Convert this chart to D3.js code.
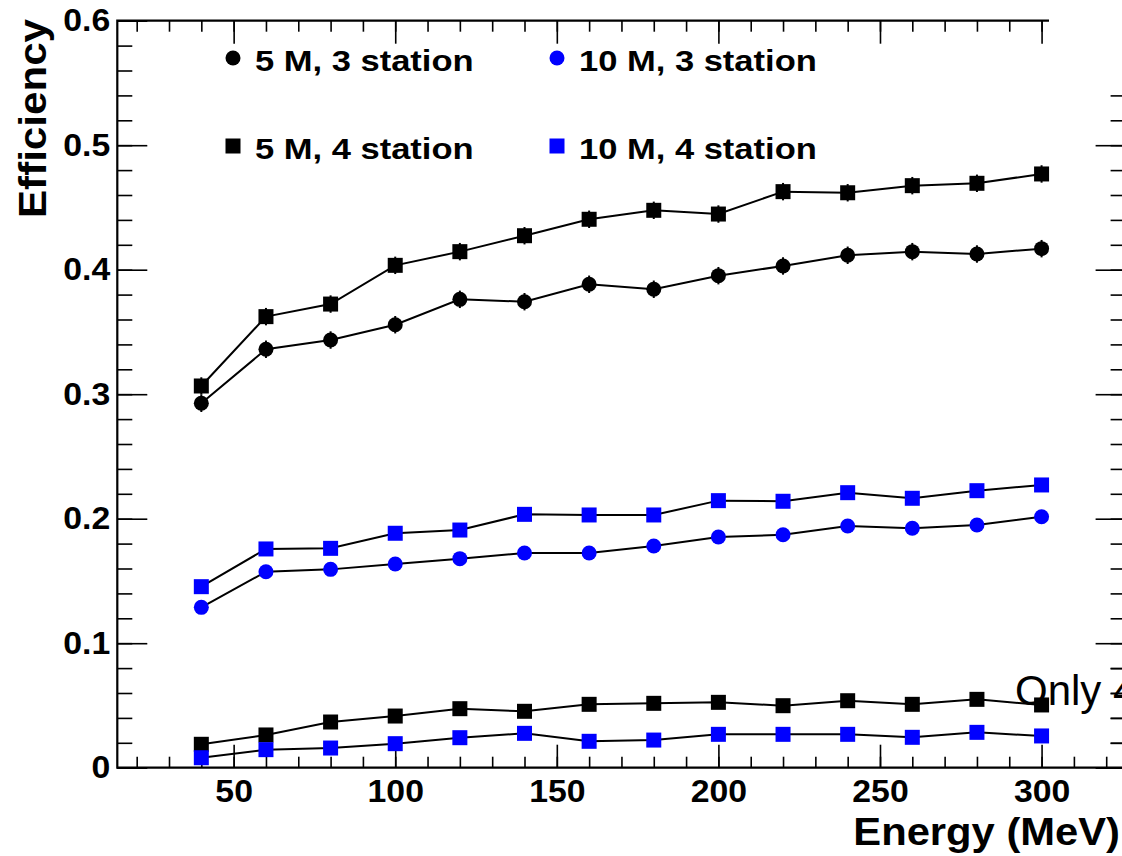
<!DOCTYPE html>
<html>
<head>
<meta charset="utf-8">
<script src="https://cdn.jsdelivr.net/npm/d3@7/dist/d3.min.js"></script>
<style>
  html, body { margin: 0; padding: 0; background: #fff; overflow: hidden; }
  svg { display: block; overflow: hidden; }
  text { font-family: "Liberation Sans", Arial, Helvetica, sans-serif; }
</style>
</head>
<body>
<svg id="chart" width="1122" height="856"></svg>
<script>
// ---------------- data ----------------
const energy = [40, 60, 80, 100, 120, 140, 160, 180, 200, 220, 240, 260, 280, 300];

const eff5M3station  = [0.2927, 0.3361, 0.3435, 0.3558, 0.3762, 0.3743, 0.3883, 0.3843, 0.3952, 0.4030, 0.4116, 0.4145, 0.4126, 0.4169];
const eff5M4station  = [0.3066, 0.3623, 0.3724, 0.4035, 0.4145, 0.4273, 0.4405, 0.4477, 0.4447, 0.4627, 0.4618, 0.4675, 0.4694, 0.4769];
const eff10M3station = [0.1288, 0.1574, 0.1593, 0.1636, 0.1679, 0.1724, 0.1724, 0.1781, 0.1853, 0.1871, 0.1941, 0.1923, 0.1949, 0.2016];
const eff10M4station = [0.1454, 0.1757, 0.1762, 0.1883, 0.1909, 0.2035, 0.2030, 0.2030, 0.2145, 0.2140, 0.2209, 0.2164, 0.2225, 0.2271];
const effOnly4_5M    = [0.0188, 0.0263, 0.0367, 0.0415, 0.0474, 0.0453, 0.0509, 0.0517, 0.0525, 0.0498, 0.0538, 0.0509, 0.0549, 0.0504];
const effOnly4_10M   = [0.0080, 0.0145, 0.0158, 0.0193, 0.0241, 0.0276, 0.0212, 0.0222, 0.0268, 0.0268, 0.0268, 0.0244, 0.0284, 0.0255];
const err5M          = [0.007, 0.007, 0.007, 0.007, 0.007, 0.007, 0.007, 0.007, 0.007, 0.007, 0.007, 0.007, 0.007, 0.007];

const legendLabels = ["5 M, 3 station", "10 M, 3 station", "5 M, 4 station", "10 M, 4 station"];
const xMajorTicks = [50, 100, 150, 200, 250, 300];
const yMajorTicks = [0, 0.1, 0.2, 0.3, 0.4, 0.5, 0.6];
const yTickLabels = ["0", "0.1", "0.2", "0.3", "0.4", "0.5", "0.6"];
const xTitle = "Energy (MeV)";
const yTitle = "Efficiency";
const note = "Only 4 station";

// ---------------- layout ----------------
const svg = d3.select("#chart");
const L = 117.3, R = 1125.6, T = 20.7, B = 767.7;
const x = d3.scaleLinear().domain([14, 326]).range([L, R]);
const y = d3.scaleLinear().domain([0, 0.6]).range([B, T]);

function stretch(sel, f) {
  sel.each(function () {
    const w = this.getComputedTextLength();
    d3.select(this).attr("textLength", w * f).attr("lengthAdjust", "spacingAndGlyphs");
  });
}

const xMinor = d3.range(20, 326, 10);
const yMinor = d3.range(0, 0.6001, 0.02);

function styleAxis(g, sw) {
  g.select(".domain").remove();
  g.selectAll(".tick line").attr("stroke", "#000").attr("stroke-width", sw);
}

// bottom axis
const gB = svg.append("g").attr("transform", `translate(0,${B})`);
gB.call(d3.axisBottom(x).tickValues(xMinor).tickSize(-11).tickFormat(""));
styleAxis(gB, 1.6);
const gB2 = svg.append("g").attr("transform", `translate(0,${B})`);
gB2.call(d3.axisBottom(x).tickValues(xMajorTicks).tickSize(-23).tickPadding(12).tickFormat(d3.format("d")));
styleAxis(gB2, 1.6);
gB2.selectAll("text").attr("font-size", 31).attr("font-weight", "bold").attr("fill", "#000").call(stretch, 1.09);

// top axis
const gT = svg.append("g").attr("transform", `translate(0,${T})`);
gT.call(d3.axisTop(x).tickValues(xMinor).tickSize(-11).tickFormat(""));
styleAxis(gT, 1.6);
const gT2 = svg.append("g").attr("transform", `translate(0,${T})`);
gT2.call(d3.axisTop(x).tickValues(xMajorTicks).tickSize(-23).tickFormat(""));
styleAxis(gT2, 1.6);

// left axis
const gL = svg.append("g").attr("transform", `translate(${L},0)`);
gL.call(d3.axisLeft(y).tickValues(yMinor).tickSize(-15).tickFormat(""));
styleAxis(gL, 1.6);
const gL2 = svg.append("g").attr("transform", `translate(${L},0)`);
gL2.call(d3.axisLeft(y).tickValues(yMajorTicks).tickSize(-30).tickPadding(7).tickFormat((d, i) => yTickLabels[i]));
styleAxis(gL2, 1.6);
gL2.selectAll("text").attr("font-size", 31).attr("font-weight", "bold").attr("fill", "#000").call(stretch, 1.09);

// right axis
const gR = svg.append("g").attr("transform", `translate(${R},0)`);
gR.call(d3.axisRight(y).tickValues(yMinor).tickSize(-15).tickFormat(""));
styleAxis(gR, 1.6);
const gR2 = svg.append("g").attr("transform", `translate(${R},0)`);
gR2.call(d3.axisRight(y).tickValues(yMajorTicks).tickSize(-30).tickFormat(""));
styleAxis(gR2, 1.6);

// frame
svg.append("path")
  .attr("d", `M${L},${T}H${R}V${B}H${L}Z`)
  .attr("fill", "none").attr("stroke", "#000").attr("stroke-width", 2.2);

// white box (covers top-right corner)
svg.append("rect").attr("x", 1049).attr("y", 0).attr("width", 80).attr("height", 86).attr("fill", "#fff");

// axis titles
svg.append("text").attr("x", 1120).attr("y", 845).attr("text-anchor", "end")
  .attr("font-size", 39).attr("font-weight", "bold").text(xTitle).call(stretch, 1.07);
svg.append("text").attr("transform", "translate(46,19) rotate(-90)").attr("text-anchor", "end")
  .attr("font-size", 39).attr("font-weight", "bold").text(yTitle).call(stretch, 1.08);

// ---------------- series ----------------
const series = [
  { vals: eff5M3station,  err: err5M, color: "#000", shape: "circle" },
  { vals: eff5M4station,  err: err5M, color: "#000", shape: "square" },
  { vals: eff10M3station, err: null,  color: "#0000ff", shape: "circle" },
  { vals: eff10M4station, err: null,  color: "#0000ff", shape: "square" },
  { vals: effOnly4_5M,    err: null,  color: "#000", shape: "square" },
  { vals: effOnly4_10M,   err: null,  color: "#0000ff", shape: "square" }
];

const line = d3.line().x(d => x(d[0])).y(d => y(d[1]));
const half = 7.5;

series.forEach(s => {
  const pts = energy.map((e, i) => [e, s.vals[i], s.err ? s.err[i] : 0]);
  const g = svg.append("g");
  g.append("path").datum(pts).attr("d", line).attr("fill", "none").attr("stroke", "#000").attr("stroke-width", 2);
  if (s.err) {
    g.selectAll(".eb").data(pts).enter().append("line")
      .attr("x1", d => x(d[0])).attr("x2", d => x(d[0]))
      .attr("y1", d => y(d[1] - d[2])).attr("y2", d => y(d[1] + d[2]))
      .attr("stroke", s.color).attr("stroke-width", 2);
  }
  if (s.shape === "circle") {
    g.selectAll(".m").data(pts).enter().append("circle")
      .attr("cx", d => x(d[0])).attr("cy", d => y(d[1])).attr("r", half).attr("fill", s.color);
  } else {
    g.selectAll(".m").data(pts).enter().append("rect")
      .attr("x", d => x(d[0]) - half).attr("y", d => y(d[1]) - half)
      .attr("width", 2 * half).attr("height", 2 * half).attr("fill", s.color);
  }
});

// note text (clipped at the right edge)
svg.append("text").attr("x", 1015).attr("y", 705).attr("font-size", 42).attr("fill", "#000").text(note);

// redraw right ticks over note text
const gR3 = svg.append("g").attr("transform", `translate(${R},0)`);
gR3.call(d3.axisRight(y).tickValues(yMinor.filter(v => v < 0.1)).tickSize(-15).tickFormat(""));
styleAxis(gR3, 1.6);

// ---------------- legend ----------------
const legend = [
  { label: legendLabels[0], color: "#000",    shape: "circle", cx: 233, cy: 58 },
  { label: legendLabels[1], color: "#0000ff", shape: "circle", cx: 557, cy: 58 },
  { label: legendLabels[2], color: "#000",    shape: "square", cx: 233, cy: 146 },
  { label: legendLabels[3], color: "#0000ff", shape: "square", cx: 557, cy: 146 }
];
legend.forEach(l => {
  if (l.shape === "circle") {
    svg.append("circle").attr("cx", l.cx).attr("cy", l.cy).attr("r", half).attr("fill", l.color);
  } else {
    svg.append("rect").attr("x", l.cx - half).attr("y", l.cy - half).attr("width", 2 * half).attr("height", 2 * half).attr("fill", l.color);
  }
  svg.append("text").attr("x", l.cx + 22).attr("y", l.cy + 12.7)
    .attr("font-size", 29).attr("font-weight", "bold").attr("fill", "#000")
    .text(l.label).call(stretch, 1.19);
});
</script>
</body>
</html>
